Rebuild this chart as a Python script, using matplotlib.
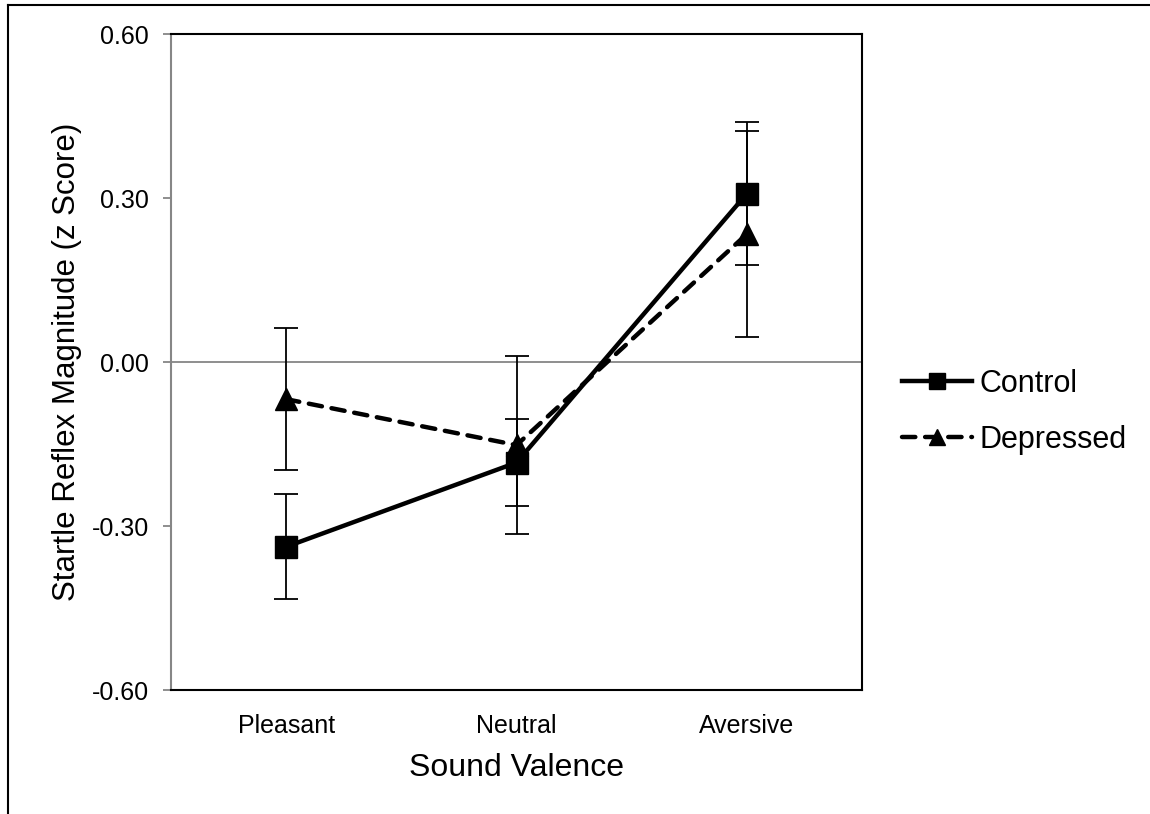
import numpy as np
import matplotlib
matplotlib.use("Agg")
import matplotlib.pyplot as plt
from matplotlib.lines import Line2D

plt.rcParams['font.family'] = ['Liberation Sans', 'DejaVu Sans']

categories = ["Pleasant", "Neutral", "Aversive"]
control_mean = [-0.338, -0.184, 0.308]
control_err = [0.096, 0.080, 0.131]
depressed_mean = [-0.068, -0.152, 0.234]
depressed_err = [0.130, 0.163, 0.188]
y_ticks = [-0.60, -0.30, 0.00, 0.30, 0.60]

fig = plt.figure(figsize=(11.5, 8.14), dpi=100)
ax = fig.add_axes([171 / 1150, 1 - 690 / 814, (862 - 171) / 1150, (690 - 34) / 814])

x = np.arange(len(categories))

# zero line (category axis crosses here)
ax.axhline(0, color='#868686', lw=1.3, zorder=1)

ax.errorbar(x, depressed_mean, yerr=depressed_err, fmt='none', ecolor='black',
            elinewidth=1.3, capsize=8.5, capthick=1.3, zorder=2)
ax.errorbar(x, control_mean, yerr=control_err, fmt='none', ecolor='black',
            elinewidth=1.3, capsize=8.5, capthick=1.3, zorder=2)

ax.plot(x, control_mean, color='black', lw=3.2, marker='s', markersize=16,
        label='Control', zorder=3)
ax.plot(x, depressed_mean, color='black', lw=3.2, marker='^', markersize=16,
        dashes=(3, 2.2), dash_capstyle='round', label='Depressed', zorder=3)

ax.set_xlim(-0.5, 2.5)
ax.set_ylim(-0.6, 0.6)
ax.set_yticks(y_ticks)
ax.set_yticklabels([f"{v:.2f}" for v in y_ticks])
ax.set_xticks(x)
ax.set_xticklabels(categories)

ax.tick_params(axis='y', direction='out', length=6, width=1.3, color='#868686',
               labelsize=18, pad=10)
ax.tick_params(axis='x', length=0, labelsize=18, pad=17)

for side in ['top', 'right', 'bottom']:
    ax.spines[side].set_color('black')
    ax.spines[side].set_linewidth(1.5)
ax.spines['left'].set_color('#868686')
ax.spines['left'].set_linewidth(1.5)

ax.set_xlabel("Sound Valence", fontsize=23, labelpad=11)
ax.set_ylabel("Startle Reflex Magnitude (z Score)", fontsize=22.5, labelpad=7)

leg = fig.legend(loc='center left', bbox_to_anchor=(902 / 1150, 1 - 412 / 814),
                 frameon=False, fontsize=22, handlelength=2.3, handletextpad=0.25,
                 labelspacing=0.85, borderpad=0, borderaxespad=0, markerscale=0.72)

# outer frame (top and left edges visible)
fig.add_artist(Line2D([8 / 1150, 1.0], [1 - 5 / 814, 1 - 5 / 814],
                      transform=fig.transFigure, color='black', lw=1.5))
fig.add_artist(Line2D([8 / 1150, 8 / 1150], [0.0, 1 - 5 / 814],
                      transform=fig.transFigure, color='black', lw=1.5))

fig.savefig("out.png", dpi=100)
